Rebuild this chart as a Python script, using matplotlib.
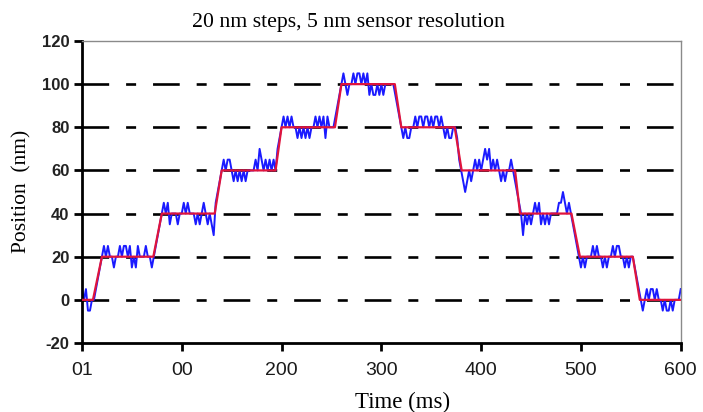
import numpy as np
import matplotlib
matplotlib.use("Agg")
import matplotlib.pyplot as plt

plt.rcParams['lines.scale_dashes'] = False

# Measured (blue) position, sampled every 2 ms from 0 to 600 ms
position_nm = [
    5, 0, 5, -5, -5, 0, 0, 5, 10, 15,
    20, 25, 20, 25, 20, 20, 15, 20, 20, 25, 20, 25, 25, 20, 25, 15, 20, 15, 25, 20, 20, 20, 25, 20, 20, 15,
    20, 25, 30, 35,
    40, 45, 40, 45, 35, 40, 40, 40, 35, 40, 40, 45, 40, 45, 40, 40, 40, 35, 40, 35, 40, 45, 40, 35, 40, 35, 30,
    45, 50, 55,
    60, 65, 60, 65, 65, 60, 55, 60, 55, 60, 55, 60, 55, 60, 60, 60, 60, 65, 60, 70, 65, 60, 65, 60, 65, 60, 65,
    60, 70, 75,
    80, 85, 80, 85, 80, 85, 80, 80, 75, 80, 75, 80, 75, 80, 75, 80, 80, 85, 80, 85, 80, 85, 75, 85, 80, 80, 80,
    85, 90, 95,
    100, 105, 100, 95, 100, 100, 105, 100, 105, 105, 100, 105, 100, 105, 95, 100, 95, 95, 100, 95, 100, 95, 100, 100, 100, 100, 100, 95,
    90, 85,
    80, 75, 80, 75, 75, 80, 80, 85, 80, 85, 85, 80, 85, 85, 80, 85, 80, 85, 85, 80, 85, 80, 75, 80, 75, 75, 80, 80,
    75, 65, 60,
    55, 50, 55, 60, 55, 60, 65, 60, 65, 60, 65, 70, 65, 70, 60, 65, 60, 65, 60, 55, 60, 55, 60, 60, 65, 60,
    55, 50, 45,
    40, 30, 40, 35, 40, 35, 40, 45, 40, 45, 35, 40, 35, 40, 35, 40, 40, 40, 40, 45, 45, 50, 45, 40, 45, 40,
    35, 30, 25, 20,
    15, 20, 15, 20, 20, 20, 25, 20, 25, 20, 20, 15, 20, 15, 20, 20, 25, 20, 25, 25, 20, 20, 15, 20, 15, 20, 20,
    15, 10, 5,
    0, -5, 0, 5, 0, 5, 5, 0, 5, 0, 0, -5, 0, -5, -5, 0, -5, 0, 0, 0, 5,
]
sample_ms = 2

# Commanded (red) staircase corners
cmd_t = [0, 11, 20, 71.5, 80, 133, 140, 194, 200, 253.5, 260, 313.5, 320,
         373.5, 380.5, 434, 439, 490.5, 499, 552, 559, 600]
cmd_y = [0, 0, 20, 20, 40, 40, 60, 60, 80, 80, 100, 100, 80,
         80, 60, 60, 40, 40, 20, 20, 0, 0]

x_ticks = [0, 100, 200, 300, 400, 500, 600]
x_tick_labels = ["01", "00", "200", "300", "400", "500", "600"]
y_ticks = [-20, 0, 20, 40, 60, 80, 100, 120]
grid_levels = [0, 20, 40, 60, 80, 100]

fig = plt.figure(figsize=(7.03, 4.12), dpi=100)
ax = fig.add_axes([0.1166, 0.1675, 0.8517, 0.7330])

for g in grid_levels:
    ax.axhline(g, color='black', lw=1.9, linestyle=(0, (19.2, 12.2, 7.2, 12.2)),
               dash_capstyle='butt', zorder=1)

t = np.arange(len(position_nm)) * sample_ms
ax.plot(t, position_nm, color='#1a1aff', lw=1.4, zorder=2)
ax.plot(cmd_t, cmd_y, color='#e0143c', lw=1.6, zorder=3)

ax.set_xlim(0, 600)
ax.set_ylim(-20, 120)
ax.set_xticks(x_ticks)
ax.set_xticklabels(x_tick_labels, fontsize=14, family='Liberation Sans', color='#1a1a1a')
ax.set_yticks(y_ticks)
ax.set_yticklabels([str(v) for v in y_ticks], fontsize=12, family='Liberation Sans',
                   color='#222222', fontweight='bold')

for s in ['left', 'bottom']:
    ax.spines[s].set_linewidth(2.0)
    ax.spines[s].set_color('black')
for s in ['top', 'right']:
    ax.spines[s].set_linewidth(1.0)
    ax.spines[s].set_color('#8a8a8a')

ax.tick_params(axis='both', direction='out', length=6, width=2.0, color='black')
ax.tick_params(axis='x', pad=8)
ax.tick_params(axis='y', pad=3)

fig.text(348 / 703, 1 - 23 / 412, "20 nm steps, 5 nm sensor resolution",
         family='Liberation Serif', fontsize=15.7, ha='center', va='center')
fig.text(403 / 703, 1 - 402 / 412, "Time (ms)", family='Liberation Serif',
         fontsize=16.5, ha='center', va='center')
fig.text(22 / 703, 1 - 191 / 412, "Position  (nm)", family='Liberation Serif',
         fontsize=15.5, ha='center', va='center', rotation=90)

fig.savefig("out.png", dpi=100)
